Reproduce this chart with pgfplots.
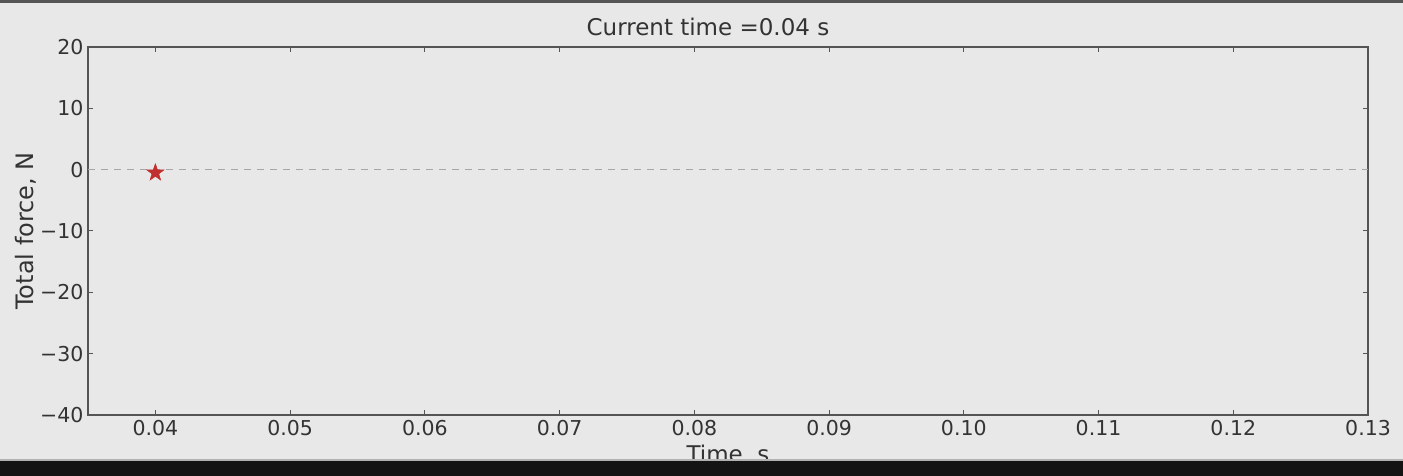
\documentclass[border=0pt]{standalone}
\usepackage{pgfplots}
\pgfplotsset{compat=1.18}
\usepackage{fontspec}
\setmainfont{DejaVu Sans}
\definecolor{bg}{HTML}{E8E8E8}
\definecolor{axc}{HTML}{555555}
\definecolor{txt}{HTML}{333333}
\definecolor{starred}{HTML}{C0302E}
\pgfdeclareplotmark{fstar}{%
  \pgfpathmoveto{\pgfqpointpolar{90}{\pgfplotmarksize}}%
  \pgfpathlineto{\pgfqpointpolar{126}{0.4\pgfplotmarksize}}%
  \pgfpathlineto{\pgfqpointpolar{162}{\pgfplotmarksize}}%
  \pgfpathlineto{\pgfqpointpolar{198}{0.4\pgfplotmarksize}}%
  \pgfpathlineto{\pgfqpointpolar{234}{\pgfplotmarksize}}%
  \pgfpathlineto{\pgfqpointpolar{270}{0.4\pgfplotmarksize}}%
  \pgfpathlineto{\pgfqpointpolar{306}{\pgfplotmarksize}}%
  \pgfpathlineto{\pgfqpointpolar{342}{0.4\pgfplotmarksize}}%
  \pgfpathlineto{\pgfqpointpolar{18}{\pgfplotmarksize}}%
  \pgfpathlineto{\pgfqpointpolar{54}{0.4\pgfplotmarksize}}%
  \pgfpathclose
  \pgfusepathqfillstroke}
\begin{document}
\begin{tikzpicture}[x=1pt,y=1pt]
\fill[bg] (0,0) rectangle (1403,476);
\fill[axc] (0,473) rectangle (1403,476);
\begin{axis}[
  at={(88pt,61pt)}, anchor=south west,
  scale only axis, width=1280pt, height=368pt,
  xmin=0.035, xmax=0.13, ymin=-40, ymax=20,
  xtick={0.04,0.05,0.06,0.07,0.08,0.09,0.10,0.11,0.12,0.13},
  xticklabels={0.04,0.05,0.06,0.07,0.08,0.09,0.10,0.11,0.12,0.13},
  ytick={-40,-30,-20,-10,0,10,20},
  yticklabels={−40,−30,−20,−10,0,10,20},
  tick align=inside, major tick length=5pt,
  tick style={axc, line width=1pt},
  axis line style={axc, line width=1.6pt},
  axis background/.style={fill=bg},
  ticklabel style={font=\fontsize{20.5}{24}\selectfont, text=txt},
  xticklabel style={yshift=-2pt},
  yticklabel style={xshift=-1pt},
  title={Current time =0.04 s},
  title style={font=\fontsize{23}{27}\selectfont, text=txt, yshift=2pt, xshift=-20pt},
  xlabel={Time, s},
  ylabel={Total force, N},
  xlabel style={font=\fontsize{23}{27}\selectfont, text=txt, yshift=-2pt},
  ylabel style={font=\fontsize{24}{28}\selectfont, text=txt, yshift=-3pt},
]
\addplot[gray!70, dashed, dash pattern=on 7pt off 6pt, line width=1.4pt] coordinates {(0.035,0) (0.13,0)};
\addplot[only marks, mark=fstar, mark size=9pt, mark options={draw=starred, fill=starred, line width=0.5pt}] coordinates {(0.04,-0.5)};
\end{axis}
\fill[black!92] (0,0) rectangle (1403,15);
\fill[gray!60] (0,15) rectangle (1403,16.5);
\path[use as bounding box] (0,0) rectangle (1403,476);
\end{tikzpicture}
\end{document}
